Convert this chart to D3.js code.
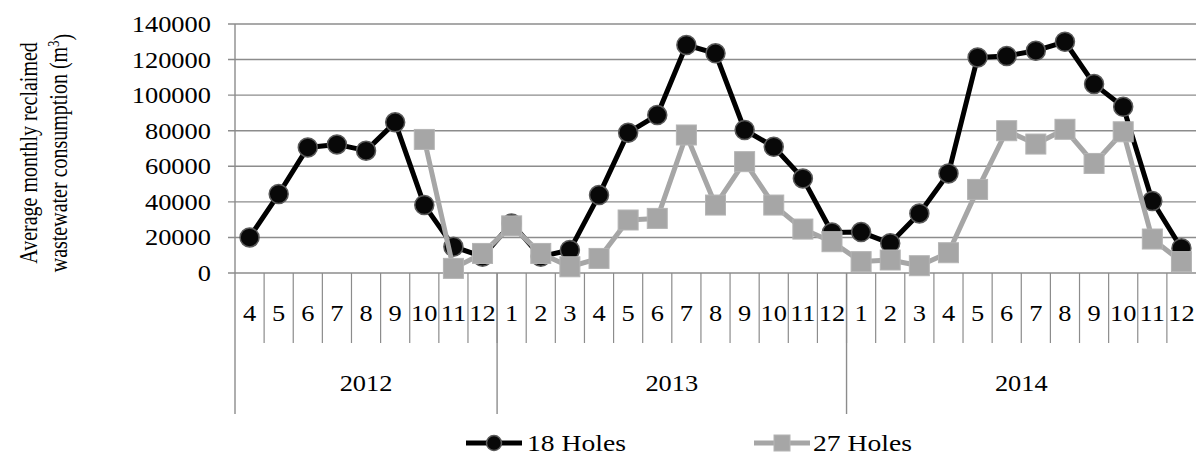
<!DOCTYPE html>
<html>
<head>
<meta charset="utf-8">
<script src="https://cdn.jsdelivr.net/npm/d3@7"></script>
<style>
  body { margin: 0; background: #fff; }
  text { font-family: "Liberation Serif", "Times New Roman", serif; fill: #000; }
</style>
</head>
<body>
<div id="chart"></div>
<script>
// Data
const months = [4,5,6,7,8,9,10,11,12, 1,2,3,4,5,6,7,8,9,10,11,12, 1,2,3,4,5,6,7,8,9,10,11,12];
const years = ["2012", "2013", "2014"];
const monthsPerYear = [9, 12, 12];
const holes18 = [20000, 44400, 70600, 72300, 68800, 84700, 38200, 14800, 9200,
                 27900, 9200, 12900, 43800, 78900, 88800, 128200, 123500, 80400, 71000, 53200, 22800,
                 23000, 16700, 33500, 56000, 121200, 122000, 125000, 130000, 106200, 93500, 40500, 13900];
const holes27 = [null, null, null, null, null, null, 75100, 2600, 11000,
                 26500, 11000, 3500, 8200, 29800, 30700, 77600, 38200, 62600, 38200, 24700, 17600,
                 6400, 7300, 4100, 11400, 47000, 80000, 72500, 80800, 61600, 79400, 19100, 6400];
const yTicks = [0, 20000, 40000, 60000, 80000, 100000, 120000, 140000];

const W = 1196, H = 457;
const plotLeft = 235, plotRight = 1196, plotTop = 24, plotBottom = 273;
const gridColor = "#8c8c8c";

const svg = d3.select("#chart").append("svg")
    .attr("width", W)
    .attr("height", H);

// small helper: text placed at (x,y), widened a little like the reference
function label(parent, x, y, str, size, anchor, sx) {
  return parent.append("g")
      .attr("transform", `translate(${x},${y}) scale(${sx},1)`)
    .append("text")
      .attr("dy", "0.35em")
      .attr("text-anchor", anchor)
      .style("font-size", size + "px")
      .text(str);
}

// Scales
const x = d3.scaleBand()
    .domain(d3.range(months.length))
    .range([plotLeft, plotRight])
    .padding(0);
const y = d3.scaleLinear()
    .domain([0, 140000])
    .range([plotBottom, plotTop]);

// Horizontal gridlines
svg.append("g")
  .selectAll("line")
  .data(yTicks)
  .enter().append("line")
    .attr("x1", plotLeft - 7)
    .attr("x2", plotRight)
    .attr("y1", d => y(d))
    .attr("y2", d => y(d))
    .attr("stroke", gridColor)
    .attr("stroke-width", 1.4);

// Y axis labels
const yLab = svg.append("g");
yTicks.forEach(d => label(yLab, plotLeft - 24, y(d), d, 23, "end", 1.15));

// Y axis line (runs down through the category area)
svg.append("line")
    .attr("x1", plotLeft).attr("x2", plotLeft)
    .attr("y1", plotTop).attr("y2", 414)
    .attr("stroke", gridColor)
    .attr("stroke-width", 1.4);

// Month separators
svg.append("g")
  .selectAll("line")
  .data(d3.range(1, months.length))
  .enter().append("line")
    .attr("x1", i => x(i)).attr("x2", i => x(i))
    .attr("y1", plotBottom).attr("y2", 343)
    .attr("stroke", gridColor)
    .attr("stroke-width", 1.2);

// Year separators
const yearStart = Array.from(d3.cumsum([0, ...monthsPerYear]));
svg.append("g")
  .selectAll("line")
  .data(yearStart.slice(1, years.length))
  .enter().append("line")
    .attr("x1", i => x(i)).attr("x2", i => x(i))
    .attr("y1", plotBottom).attr("y2", 414)
    .attr("stroke", gridColor)
    .attr("stroke-width", 1.4);

// Month labels
const mLab = svg.append("g");
months.forEach((d, i) => label(mLab, x(i) + x.bandwidth() / 2, 313, d, 24, "middle", 1.1));

// Year labels
const yrLab = svg.append("g");
years.forEach((d, i) => {
  const x0 = x(yearStart[i]);
  const x1 = yearStart[i + 1] < months.length ? x(yearStart[i + 1]) : plotRight;
  label(yrLab, (x0 + x1) / 2, 383, d, 24, "middle", 1.1);
});

// Y axis title
const title = svg.append("g")
    .attr("transform", `translate(43, 153) scale(1.25,1) rotate(-90)`)
  .append("text")
    .attr("text-anchor", "middle")
    .style("font-size", "20px");
title.append("tspan").attr("x", 0).attr("dy", "-0.25em").text("Average monthly reclaimed");
const line2 = title.append("tspan").attr("x", 0).attr("dy", "1.2em");
line2.append("tspan").text("wastewater consumption (m");
line2.append("tspan").attr("dy", "-0.45em").style("font-size", "13px").text("3");
line2.append("tspan").attr("dy", "0.45em").text(")");

// Lines and markers
const line = d3.line()
    .defined(d => d != null)
    .x((d, i) => x(i) + x.bandwidth() / 2)
    .y(d => y(d));

function drawLine(values, color) {
  svg.append("path")
    .datum(values)
    .attr("fill", "none")
    .attr("stroke", color)
    .attr("stroke-width", 5)
    .attr("stroke-linejoin", "round")
    .attr("d", line);
}

drawLine(holes18, "#000");
svg.append("g")
  .selectAll("circle")
  .data(holes18)
  .enter().append("circle")
    .attr("cx", (d, i) => x(i) + x.bandwidth() / 2)
    .attr("cy", d => y(d))
    .attr("r", 9.5)
    .attr("fill", "#080808")
    .attr("stroke", "#5a5a5a")
    .attr("stroke-width", 1.5);

drawLine(holes27, "#a6a6a6");
const sq = 20;
svg.append("g")
  .selectAll("rect")
  .data(holes27.map((v, i) => ({ v, i })).filter(d => d.v != null))
  .enter().append("rect")
    .attr("x", d => x(d.i) + x.bandwidth() / 2 - sq / 2)
    .attr("y", d => y(d.v) - sq / 2)
    .attr("width", sq)
    .attr("height", sq)
    .attr("fill", "#a6a6a6")
    .attr("stroke", "#b4b4b4")
    .attr("stroke-width", 1);

// Legend
const legY = 443;
svg.append("line")
    .attr("x1", 466).attr("x2", 522)
    .attr("y1", legY).attr("y2", legY)
    .attr("stroke", "#000").attr("stroke-width", 5);
svg.append("circle")
    .attr("cx", 494).attr("cy", legY).attr("r", 7.5)
    .attr("fill", "#080808").attr("stroke", "#5a5a5a").attr("stroke-width", 1.5);
label(svg, 527, legY, "18 Holes", 24, "start", 1.15);

svg.append("line")
    .attr("x1", 754).attr("x2", 810)
    .attr("y1", legY).attr("y2", legY)
    .attr("stroke", "#a6a6a6").attr("stroke-width", 5);
svg.append("rect")
    .attr("x", 774).attr("y", legY - 8).attr("width", 16).attr("height", 16)
    .attr("fill", "#a6a6a6").attr("stroke", "#b4b4b4").attr("stroke-width", 1);
label(svg, 813, legY, "27 Holes", 24, "start", 1.15);
</script>
</body>
</html>
